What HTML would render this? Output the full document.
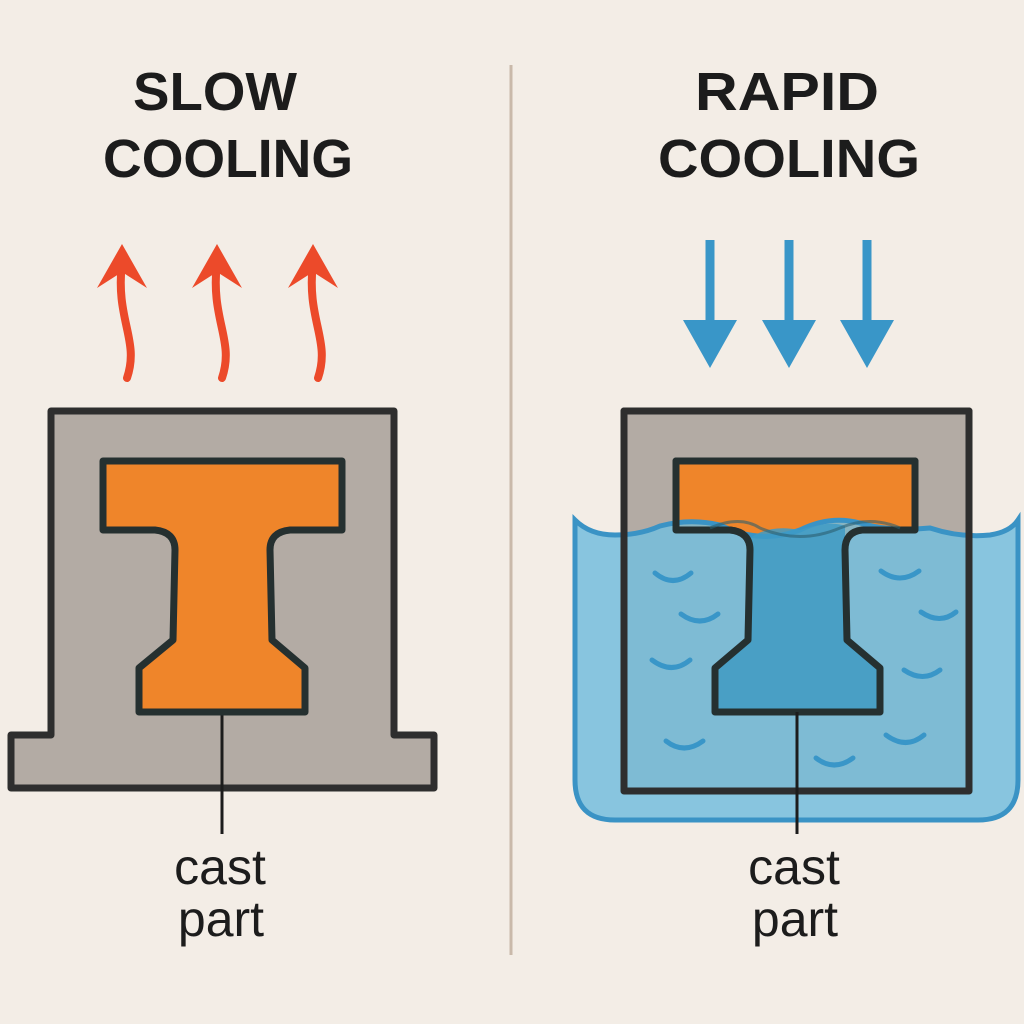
<!DOCTYPE html>
<html><head><style>
html,body{margin:0;padding:0;background:#f3ede6;}
svg{display:block}
</style></head><body>
<svg width="1024" height="1024" viewBox="0 0 1024 1024" xmlns="http://www.w3.org/2000/svg">
<rect width="1024" height="1024" fill="#f3ede6"/>
<line x1="511" y1="65" x2="511" y2="955" stroke="#c9b9aa" stroke-width="3"/>
<g font-family="'Liberation Sans', sans-serif" font-weight="bold" font-size="54" fill="#1c1c1c" text-anchor="middle">
<text x="215" y="110" textLength="164" lengthAdjust="spacingAndGlyphs">SLOW</text>
<text x="228" y="177" textLength="250" lengthAdjust="spacingAndGlyphs">COOLING</text>
<text x="787" y="110" textLength="184" lengthAdjust="spacingAndGlyphs">RAPID</text>
<text x="789" y="177" textLength="262" lengthAdjust="spacingAndGlyphs">COOLING</text>
</g>
<g font-family="'Liberation Sans', sans-serif" font-size="50" fill="#1c1c1c" text-anchor="middle">
<text x="220" y="884">cast</text>
<text x="221" y="936">part</text>
<text x="794" y="884">cast</text>
<text x="795" y="936">part</text>
</g>
<g fill="none" stroke="#ec4a2a" stroke-width="8" stroke-linecap="round">
<path d="M127,378 C140,340 115,320 122,262"/>
<path d="M222,378 C235,340 210,320 217,262"/>
<path d="M318,378 C331,340 306,320 313,262"/>
</g>
<g fill="#ec4a2a">
<path d="M122,244 L97,288 L122,272 L147,288 Z"/>
<path d="M217,244 L192,288 L217,272 L242,288 Z"/>
<path d="M313,244 L288,288 L313,272 L338,288 Z"/>
</g>
<g stroke="#3996c8" stroke-width="9">
<line x1="710" y1="240" x2="710" y2="335"/>
<line x1="789" y1="240" x2="789" y2="335"/>
<line x1="867" y1="240" x2="867" y2="335"/>
</g>
<g fill="#3996c8">
<path d="M683,320 L737,320 L710,368 Z"/>
<path d="M762,320 L816,320 L789,368 Z"/>
<path d="M840,320 L894,320 L867,368 Z"/>
</g>
<path d="M51,411 L394,411 L394,735 L434,735 L434,788 L11,788 L11,735 L51,735 Z" fill="#b3aba4" stroke="#2e2e2e" stroke-width="7" stroke-linejoin="round"/>
<line x1="222" y1="712" x2="222" y2="834" stroke="#1c1c1c" stroke-width="3"/>
<path d="M103,461 L342,461 L342,530 L290,530 Q270,532 270,550 L272,640 L305,668 L305,712 L139,712 L139,668 L173,640 L175,550 Q175,532 155,530 L103,530 Z" fill="#ef852a" stroke="#253030" stroke-width="7" stroke-linejoin="round"/>
<rect x="624" y="411" width="345" height="380" fill="#b3aba4" stroke="#2e2e2e" stroke-width="7" stroke-linejoin="round"/>
<path d="M676,461 L915,461 L915,530 L862,530 Q845,532 845,550 L847,640 L880,668 L880,712 L715,712 L715,668 L748,640 L750,550 Q750,532 730,530 L676,530 Z" fill="#ef852a" stroke="#253030" stroke-width="7" stroke-linejoin="round"/>
<path d="M575,520 Q590,535 615,535 Q640,535 660,526 Q690,518 720,525 Q760,545 800,530 Q830,515 860,523 Q890,532 930,528 Q960,538 990,535 Q1010,532 1018,520 L1018,780 Q1018,820 978,820 L615,820 Q575,820 575,780 Z" fill="#74bddd" fill-opacity="0.85" stroke="#3a93c5" stroke-width="5"/>
<path d="M750,538 Q770,524 800,530 Q830,520 845,526 L845,550 L847,640 L880,668 L880,712 L715,712 L715,668 L748,640 L750,550 Z" fill="#3e9bc6" opacity="0.85"/>
<path d="M676,530 L676,461 L915,461 L915,530 L862,530 Q845,532 845,550 L847,640 L880,668 L880,712 L715,712 L715,668 L748,640 L750,550 Q750,532 730,530 Z" fill="none" stroke="#253030" stroke-width="7" stroke-linejoin="round"/>
<path d="M710,528 Q740,515 760,528 Q800,545 840,528 Q870,515 900,528" fill="none" stroke="#2c5f70" stroke-width="3" opacity="0.6"/>
<rect x="624" y="411" width="345" height="380" fill="none" stroke="#2e2e2e" stroke-width="7" stroke-linejoin="round"/>
<line x1="797" y1="712" x2="797" y2="834" stroke="#1c1c1c" stroke-width="3"/>
<g fill="none" stroke="#3996c8" stroke-width="5" stroke-linecap="round">
<path d="M655,573 Q673,588 691,573"/>
<path d="M681,614 Q700,628 718,614"/>
<path d="M652,660 Q672,675 690,660"/>
<path d="M666,741 Q684,755 703,741"/>
<path d="M881,571 Q900,585 919,571"/>
<path d="M921,612 Q940,625 956,612"/>
<path d="M904,670 Q923,683 940,670"/>
<path d="M886,735 Q906,750 924,735"/>
<path d="M816,758 Q834,772 853,758"/>
</g>
</svg>
</body></html>
